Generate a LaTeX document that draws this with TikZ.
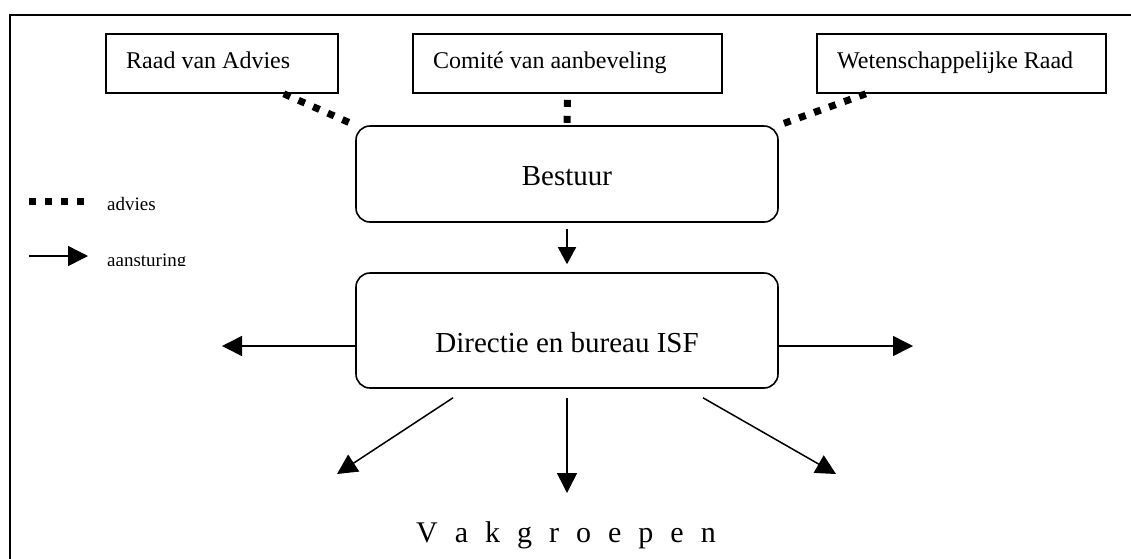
\documentclass[tikz,border=0pt]{standalone}
\usepackage{fontspec}
\setmainfont{Liberation Serif}
\usetikzlibrary{arrows.meta}
\begin{document}
\begin{tikzpicture}[x=1pt,y=-1pt,
  topbox/.style={draw, line width=1.6pt, minimum width=#1, minimum height=59pt, inner sep=0pt},
  roundbox/.style={draw, line width=1.6pt, rounded corners=14pt, minimum width=422pt, minimum height=#1, inner sep=0pt},
  boxtext/.style={anchor=base west, inner sep=0pt, font=\fontsize{24}{28}\selectfont},
  bigtext/.style={inner sep=0pt, font=\fontsize{29}{34}\selectfont},
  legtext/.style={anchor=base west, inner sep=0pt, font=\fontsize{19}{22}\selectfont},
  spaced/.style={inner sep=0pt, font=\fontsize{30}{34}\selectfont},
  advice/.style={line width=7pt, dash pattern=on 7pt off 9pt},
  steer/.style={line width=1.5pt, -{Triangle[length=20pt,width=20pt]}},
  steersmall/.style={line width=1.5pt, -{Triangle[length=17pt,width=18pt]}}]
\clip (0,0) rectangle (1131,558);
\fill[white] (0,0) rectangle (1131,558);
% outer frame (only its left and top sides fall inside the page)
\draw[line width=2pt] (10,15) rectangle (1200,650);

% advisory bodies
\node[topbox=232pt] (raad) at (222,63.5) {};
\node[boxtext] at (126,68) {Raad van Advies};
\node[topbox=309pt] (comite) at (567.5,63.5) {};
\node[boxtext] at (433,68) {Comité van aanbeveling};
\node[topbox=289pt] (wet) at (961.5,63.5) {};
\node[boxtext] at (837,68) {Wetenschappelijke Raad};

% board and management
\node[roundbox=96pt] (bestuur) at (567,174) {};
\node[bigtext] at (567,176) {Bestuur};
\node[roundbox=115pt] (dir) at (567,330.5) {};
\node[bigtext, anchor=base] at (567,352) {Directie en bureau ISF};

% departments
\node[spaced, anchor=base] (vak) at (566,542) {\spaceskip=17pt\relax V a k g r o e p e n};

% advice links
\draw[advice] ([xshift=-55pt]raad.south east) -- (bestuur.north west);
\draw[advice] ([yshift=-6pt]comite.south) -- (bestuur.north);
\draw[advice] ([xshift=-241pt]wet.south east) -- (bestuur.north east);

% steering arrows
\coordinate (lt) at (222,346);
\coordinate (rt) at (913,346);
\coordinate (vl) at (337,474);
\coordinate (vc) at (567,493);
\coordinate (vr) at (836,474);
\draw[steersmall] ([yshift=-6pt]bestuur.south) -- ([yshift=8pt]dir.north);
\draw[steer] (dir.west |- lt) -- (lt);
\draw[steer] (dir.east |- rt) -- (rt);
\draw[steer] ([shift={(-114pt,-9pt)}]dir.south) -- (vl);
\draw[steer] ([yshift=-9pt]dir.south) -- (vc);
\draw[steer] ([shift={(136pt,-9pt)}]dir.south) -- (vr);

% legend
\coordinate (la1) at (29,201.5);
\coordinate (la2) at (84,201.5);
\draw[advice] (la1) -- (la2);
\node[legtext] at (107,210) {advies};
\coordinate (lb1) at (29,256);
\coordinate (lb2) at (88,256);
\draw[steer] (lb1) -- (lb2);
\begin{scope}
  \clip (100,235) rectangle (300,265);
  \node[legtext] at (107,266) {aansturing};
\end{scope}
\end{tikzpicture}
\end{document}
